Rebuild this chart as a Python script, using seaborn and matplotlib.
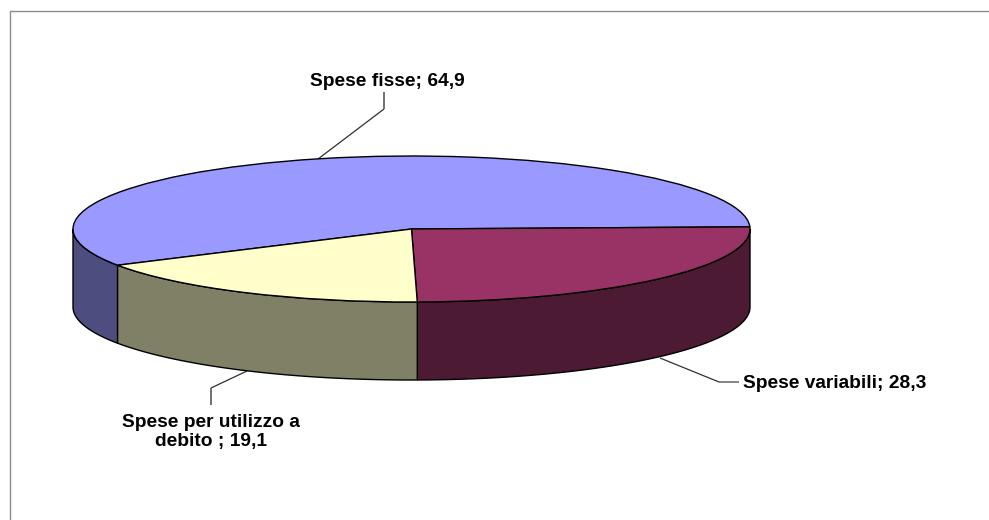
import numpy as np
import matplotlib
matplotlib.use("Agg")
import matplotlib.pyplot as plt
from matplotlib.lines import Line2D
import seaborn as sns

categories = ["Spese fisse", "Spese variabili", "Spese per utilizzo a\ndebito "]
values = [64.9, 28.3, 19.1]
top_colors = ["#9999FF", "#993366", "#FFFFCC"]
side_colors = ["#4D4D80", "#4D1A33", "#808066"]

W, H = 989, 520
CX, CY, RX, RY, DEPTH_PX = 411.5, 229.0, 338.5, 73.0, 78.0
BOUNDARY_DEG = 1.7  # clockwise start of "Spese variabili"

sns.set_theme(style="white")
plt.rcParams["font.family"] = ["Liberation Sans", "DejaVu Sans"]

fig = plt.figure(figsize=(W / 100, H / 100), dpi=100, facecolor="white")
ax = fig.add_axes([0, 0, 1, 1])

def dx(px):
    return (px - CX) / RX

def dy(py):
    return (CY - py) / RY

sweeps = 360 * np.array(values) / np.sum(values)
start = BOUNDARY_DEG + sweeps[0]
edge = dict(edgecolor="black", linewidth=1.0)

wedges, _ = ax.pie(values, colors=top_colors, startangle=start, counterclock=False,
                   radius=1.0, wedgeprops=edge)
for w in wedges:
    w.set_zorder(3)

# Visible side walls of the disc, derived from the slice angles
depth = DEPTH_PX / RY
a = start
for sweep, col in zip(sweeps, side_colors):
    hi, lo = a, a - sweep
    a = lo
    for k in (0, -360):
        t2, t1 = hi + k, lo + k
        s1, s2 = max(t1, -180), min(t2, 0)
        if s2 > s1:
            th = np.radians(np.linspace(s1, s2, 120))
            xs = np.cos(th)
            ys = np.sin(th)
            ax.fill(np.r_[xs, xs[::-1]], np.r_[ys, ys[::-1] - depth],
                    facecolor=col, edgecolor="black", linewidth=1.0, zorder=2)

ax.set_aspect("auto")
ax.set_xlim(dx(0), dx(W))
ax.set_ylim(dy(H), dy(0))
ax.set_axis_off()

# Leader lines
leaders = [
    ([318, 384], [159, 109], "#303030", 0.9),
    ([384, 384], [109, 92], "#707070", 1.4),
    ([660, 719], [358, 382], "#303030", 0.9),
    ([719, 739], [382, 382], "#707070", 1.2),
    ([247, 211], [371, 388], "#303030", 0.9),
    ([211, 211], [388, 405], "#707070", 1.4),
]
for xs, ys, c, lw in leaders:
    ax.plot([dx(x) for x in xs], [dy(y) for y in ys], color=c, lw=lw, zorder=1,
            solid_capstyle="butt")

def label(i):
    return f"{categories[i]}; {str(values[i]).replace('.', ',')}"

txt = dict(fontsize=13.8, fontweight="bold", color="black", va="center", zorder=5)
ax.text(dx(387.5), dy(82), label(0), ha="center", **txt)
ax.text(dx(743), dy(384), label(1), ha="left", **txt)
ax.text(dx(211), dy(432), label(2), ha="center", linespacing=1.08, **txt)

# Chart frame (top and left edges are within the image)
fig.add_artist(Line2D([9.5 / W, 9.5 / W], [0, 1 - 10.5 / H], color="#8C8C8C", lw=1.0))
fig.add_artist(Line2D([9.5 / W, 1], [1 - 10.5 / H, 1 - 10.5 / H], color="#8C8C8C", lw=1.0))

fig.savefig("out.png", dpi=100, facecolor="white")
